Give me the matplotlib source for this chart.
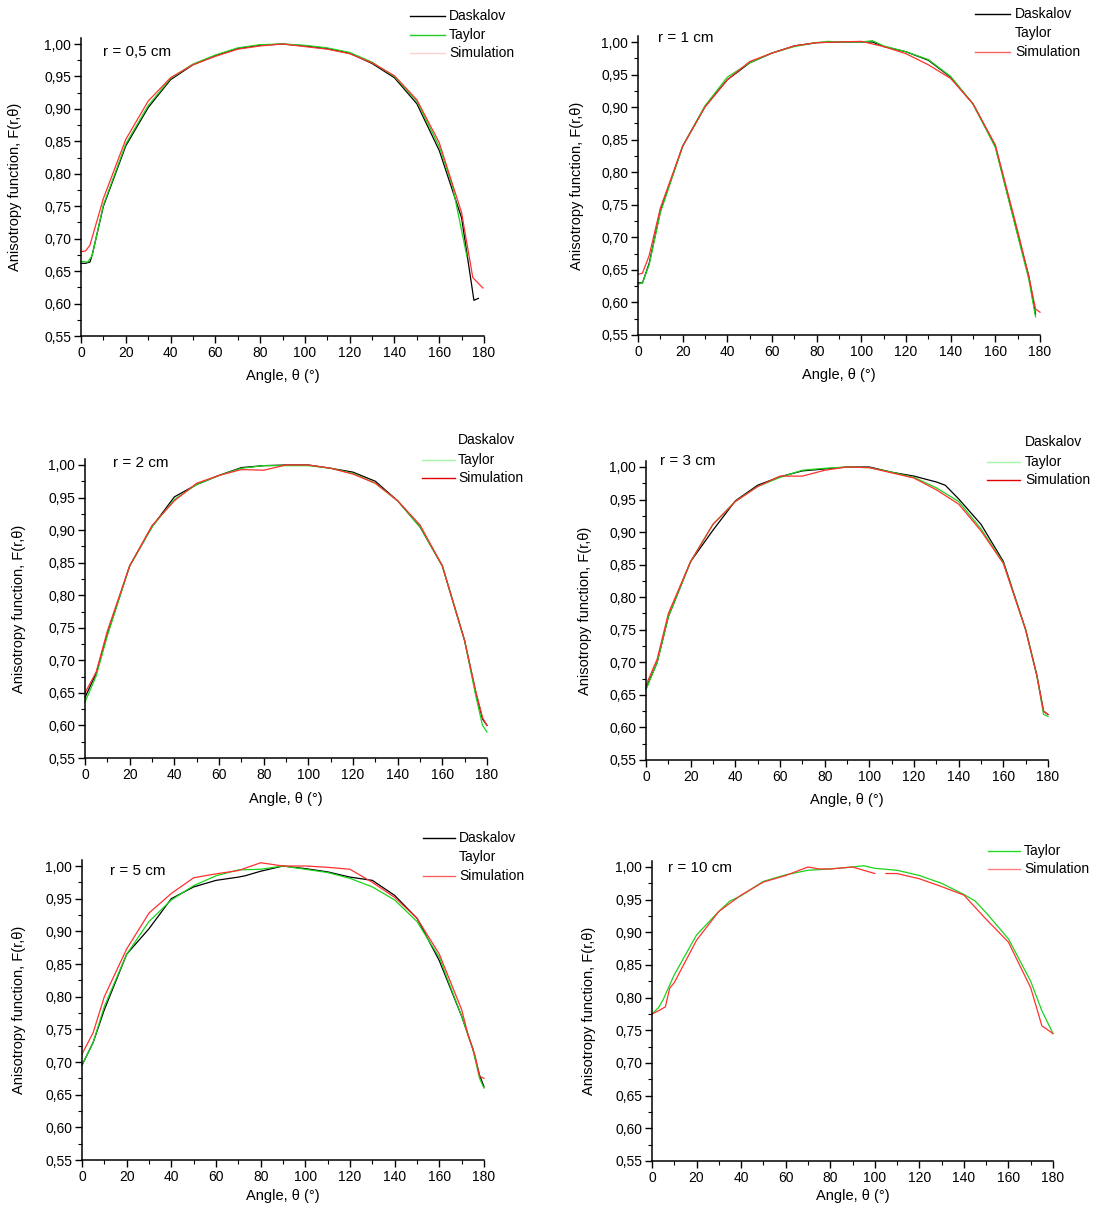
import numpy as np
import matplotlib
matplotlib.use('Agg')
import matplotlib.pyplot as plt
from matplotlib.lines import Line2D
from matplotlib.ticker import FuncFormatter, MultipleLocator

plt.rcParams['font.family'] = ['Liberation Sans', 'DejaVu Sans']

# Angles (degrees) and anisotropy values

# r = 0,5 cm
ang_05_d = [0, 2, 4, 5, 10, 20, 30, 40, 50, 60, 70, 80, 90, 100, 110, 120, 130, 140, 150, 160, 170, 175.5, 177.5]
val_05_d = [0.662, 0.662, 0.664, 0.675, 0.750, 0.843, 0.902, 0.945, 0.968, 0.982, 0.993, 0.998, 1.000, 0.997, 0.993, 0.986, 0.970, 0.948, 0.908, 0.836, 0.732, 0.605, 0.608]
ang_05_t = [0, 3, 5, 10, 20, 30, 40, 50, 60, 70, 80, 90, 100, 110, 120, 130, 140, 150, 160, 166, 172.4]
val_05_t = [0.665, 0.664, 0.674, 0.752, 0.846, 0.905, 0.947, 0.969, 0.983, 0.994, 0.999, 1.000, 0.998, 0.994, 0.987, 0.972, 0.950, 0.912, 0.842, 0.780, 0.672]
ang_05_s = [0, 2, 4, 10, 20, 30, 40, 50, 60, 70, 80, 90, 100, 110, 120, 130, 140, 150, 160, 170, 175, 179.5]
val_05_s = [0.680, 0.681, 0.690, 0.762, 0.853, 0.912, 0.948, 0.968, 0.981, 0.992, 0.997, 1.000, 0.996, 0.992, 0.985, 0.971, 0.951, 0.914, 0.848, 0.740, 0.640, 0.624]

# r = 1 cm
ang_1_d = [0, 2, 5, 10, 20, 30, 40, 50, 60, 70, 80, 90, 100, 105, 110, 120, 130, 140, 150, 160, 170, 175, 178]
val_1_d = [0.630, 0.630, 0.660, 0.740, 0.840, 0.901, 0.942, 0.968, 0.983, 0.994, 0.999, 1.000, 1.000, 1.000, 0.993, 0.985, 0.972, 0.946, 0.905, 0.840, 0.705, 0.640, 0.582]
ang_1_t = [0, 2, 5, 10, 20, 30, 40, 50, 60, 70, 80, 85, 90, 100, 105, 110, 120, 130, 140, 150, 160, 170, 175, 178]
val_1_t = [0.628, 0.630, 0.658, 0.738, 0.840, 0.902, 0.946, 0.968, 0.983, 0.993, 0.999, 1.001, 1.000, 1.000, 1.002, 0.994, 0.985, 0.973, 0.947, 0.905, 0.838, 0.703, 0.635, 0.578]
ang_1_s = [0, 2, 5, 10, 20, 30, 40, 50, 60, 70, 80, 90, 100, 110, 120, 130, 140, 150, 160, 170, 175, 178, 180]
val_1_s = [0.643, 0.645, 0.672, 0.745, 0.840, 0.900, 0.942, 0.970, 0.983, 0.994, 0.999, 1.000, 1.001, 0.993, 0.982, 0.965, 0.944, 0.905, 0.842, 0.710, 0.640, 0.590, 0.585]

# r = 2 cm
ang_2_d = [0, 5, 10, 20, 30, 40, 50, 60, 70, 80, 90, 100, 110, 120, 130, 140, 150, 160, 170, 175, 178, 180]
val_2_d = [0.643, 0.680, 0.740, 0.845, 0.905, 0.951, 0.970, 0.984, 0.996, 0.999, 1.000, 1.000, 0.995, 0.989, 0.975, 0.945, 0.905, 0.845, 0.730, 0.650, 0.610, 0.600]
ang_2_t = [0, 5, 10, 20, 30, 40, 50, 60, 70, 80, 90, 100, 110, 120, 130, 140, 150, 160, 170, 175, 178, 180]
val_2_t = [0.636, 0.676, 0.738, 0.845, 0.905, 0.947, 0.970, 0.984, 0.995, 0.999, 0.999, 0.999, 0.995, 0.987, 0.972, 0.945, 0.905, 0.845, 0.730, 0.645, 0.600, 0.590]
ang_2_s = [0, 5, 10, 20, 30, 40, 50, 60, 70, 80, 90, 100, 110, 120, 130, 140, 150, 160, 170, 175, 178, 180]
val_2_s = [0.650, 0.682, 0.745, 0.845, 0.907, 0.945, 0.972, 0.984, 0.993, 0.992, 1.000, 1.000, 0.995, 0.986, 0.972, 0.945, 0.908, 0.845, 0.730, 0.652, 0.612, 0.600]

# r = 3 cm
ang_3_d = [0, 5, 10, 20, 30, 40, 50, 60, 70, 80, 90, 100, 110, 120, 130, 134, 140, 150, 160, 170, 175, 178, 180]
val_3_d = [0.660, 0.700, 0.770, 0.855, 0.903, 0.948, 0.972, 0.985, 0.994, 0.997, 1.000, 1.000, 0.992, 0.986, 0.977, 0.972, 0.951, 0.912, 0.855, 0.750, 0.680, 0.625, 0.620]
ang_3_t = [0, 5, 10, 20, 30, 40, 50, 60, 70, 80, 90, 100, 110, 120, 130, 140, 150, 160, 170, 175, 178, 180]
val_3_t = [0.658, 0.700, 0.770, 0.855, 0.912, 0.947, 0.970, 0.984, 0.995, 0.998, 1.000, 0.999, 0.992, 0.984, 0.968, 0.947, 0.905, 0.853, 0.750, 0.680, 0.620, 0.617]
ang_3_s = [0, 5, 10, 20, 30, 40, 50, 60, 70, 80, 90, 100, 110, 120, 130, 140, 150, 160, 170, 175, 178, 180]
val_3_s = [0.665, 0.705, 0.775, 0.855, 0.912, 0.947, 0.970, 0.986, 0.986, 0.995, 1.000, 0.999, 0.991, 0.983, 0.965, 0.943, 0.902, 0.852, 0.750, 0.680, 0.625, 0.620]

# r = 5 cm
ang_5_d = [0, 5, 10, 20, 30, 40, 50, 60, 70, 73, 80, 90, 100, 110, 120, 130, 140, 150, 160, 170, 175, 178, 180]
val_5_d = [0.695, 0.730, 0.780, 0.865, 0.904, 0.950, 0.968, 0.978, 0.983, 0.985, 0.992, 1.000, 0.996, 0.991, 0.983, 0.978, 0.955, 0.920, 0.855, 0.770, 0.720, 0.680, 0.662]
ang_5_t = [0, 5, 10, 20, 30, 40, 50, 60, 70, 80, 90, 100, 110, 120, 130, 140, 150, 160, 170, 175, 178, 180]
val_5_t = [0.695, 0.730, 0.785, 0.865, 0.915, 0.948, 0.970, 0.985, 0.994, 0.995, 1.000, 0.995, 0.990, 0.981, 0.968, 0.948, 0.915, 0.860, 0.770, 0.720, 0.675, 0.660]
ang_5_s = [0, 5, 10, 20, 30, 40, 50, 60, 70, 80, 90, 100, 110, 120, 130, 140, 150, 160, 170, 173, 176, 178, 180]
val_5_s = [0.712, 0.745, 0.800, 0.873, 0.928, 0.958, 0.982, 0.988, 0.993, 1.005, 1.000, 1.000, 0.998, 0.995, 0.975, 0.952, 0.920, 0.865, 0.780, 0.740, 0.710, 0.678, 0.675]

# r = 10 cm (no Daskalov data)
ang_10_t = [0, 3, 5, 10, 20, 30, 35, 40, 50, 60, 70, 80, 90, 95, 100, 110, 120, 130, 140, 145, 150, 160, 170, 175, 180]
val_10_t = [0.775, 0.785, 0.797, 0.835, 0.896, 0.932, 0.948, 0.956, 0.978, 0.988, 0.995, 0.997, 1.000, 1.002, 0.998, 0.995, 0.987, 0.975, 0.958, 0.948, 0.930, 0.890, 0.825, 0.780, 0.745]
ang_10_s = [0, 3, 6, 8, 10, 20, 30, 40, 50, 60, 70, 75, 80, 90, 100, 102, 105, 110, 120, 130, 140, 150, 160, 170, 175, 180]
val_10_s = [0.775, 0.780, 0.786, 0.815, 0.823, 0.888, 0.932, 0.957, 0.977, 0.987, 1.000, 0.997, 0.997, 1.000, 0.990, np.nan, 0.990, 0.990, 0.982, 0.970, 0.957, 0.920, 0.885, 0.815, 0.757, 0.745]

radius_labels = ['r = 0,5 cm', 'r = 1 cm', 'r = 2 cm', 'r = 3 cm', 'r = 5 cm', 'r = 10 cm']

series = [
    [(ang_05_d, val_05_d, 'k'), (ang_05_t, val_05_t, '#1ad41a'), (ang_05_s, val_05_s, '#ff3030')],
    [(ang_1_d, val_1_d, 'k'), (ang_1_t, val_1_t, '#1ad41a'), (ang_1_s, val_1_s, '#ff3030')],
    [(ang_2_d, val_2_d, 'k'), (ang_2_t, val_2_t, '#1ad41a'), (ang_2_s, val_2_s, '#ff3030')],
    [(ang_3_d, val_3_d, 'k'), (ang_3_t, val_3_t, '#1ad41a'), (ang_3_s, val_3_s, '#ff3030')],
    [(ang_5_d, val_5_d, 'k'), (ang_5_t, val_5_t, '#1ad41a'), (ang_5_s, val_5_s, '#ff3030')],
    [(ang_10_t, val_10_t, '#1ad41a'), (ang_10_s, val_10_s, '#ff3030')],
]

# pixel layout: x of 0 and 180 deg, y of 1,00 and 0,55
frames = [(81, 484, 44, 336), (638, 1040, 42, 335),
          (85, 487, 465, 758), (646, 1048, 467, 760),
          (82, 484, 866, 1160), (652, 1053, 867, 1161)]

# legend: (line x0, line x1, text x, row ys, labels, line colours)
legends = [
    (410, 445, 449, [16, 35, 53], ['Daskalov', 'Taylor', 'Simulation'], ['k', '#22cc22', '#ffd0d0']),
    (975, 1010, 1015, [14, 33, 52], ['Daskalov', 'Taylor', 'Simulation'], ['k', 'none', '#ff6060']),
    (422, 455, 458, [440, 460, 478], ['Daskalov', 'Taylor', 'Simulation'], ['none', '#a8f5a8', '#e00000']),
    (987, 1020, 1025, [442, 462, 480], ['Daskalov', 'Taylor', 'Simulation'], ['none', '#a8f5a8', '#e00000']),
    (423, 455, 459, [838, 857, 876], ['Daskalov', 'Taylor', 'Simulation'], ['k', 'none', '#ff6060']),
    (988, 1020, 1024, [851, 869], ['Taylor', 'Simulation'], ['#22dd22', '#ff8080']),
]

ann_pos = [(103, 52), (658, 38), (113, 463), (660, 461), (110, 871), (668, 868)]
ylab_x = [16, 578, 20, 586, 20, 590]
xlab_y = [376, 375, 799, 800, 1196, 1196]

W, H = 1095, 1207
fig = plt.figure(figsize=(W / 100, H / 100), dpi=100)

comma = FuncFormatter(lambda v, p: '{:.2f}'.format(v).replace('.', ','))
ytop = 1.009

for i in range(6):
    x0, x1, y1, y0 = frames[i]
    ppu = (y0 - y1) / 0.45
    top_px = y1 - (ytop - 1.0) * ppu
    ax = fig.add_axes([x0 / W, 1 - y0 / H, (x1 - x0) / W, (y0 - top_px) / H])

    for ang, val, col in series[i]:
        ax.plot(ang, val, color=col, lw=0.9, clip_on=False)

    ax.set_xlim(0, 180)
    ax.set_ylim(0.55, ytop)
    ax.xaxis.set_major_locator(MultipleLocator(20))
    ax.xaxis.set_minor_locator(MultipleLocator(10))
    ax.yaxis.set_major_locator(MultipleLocator(0.05))
    ax.yaxis.set_minor_locator(MultipleLocator(0.025))
    ax.yaxis.set_major_formatter(comma)
    for s in ['top', 'right']:
        ax.spines[s].set_visible(False)
    for s in ['left', 'bottom']:
        ax.spines[s].set_linewidth(1.1)
    ax.tick_params(which='major', direction='out', length=5, width=1, labelsize=10, pad=2)
    ax.tick_params(which='minor', direction='out', length=3, width=0.8)

    ax_h = y0 - top_px
    ax.set_xlabel('Angle, θ (°)', fontsize=10.5)
    ax.xaxis.set_label_coords(0.5, -(xlab_y[i] - 7 - y0) / ax_h)
    ax.set_ylabel('Anisotropy function, F(r,θ)', fontsize=10.5)
    ax.yaxis.set_label_coords((ylab_x[i] + 6 - x0) / (x1 - x0), 0.5)

    ax.text(ann_pos[i][0] / W, 1 - ann_pos[i][1] / H, radius_labels[i],
            transform=fig.transFigure, fontsize=11, va='center', ha='left')

    lx0, lx1, tx, rows, labels, lcols = legends[i]
    for yy, lab, lc in zip(rows, labels, lcols):
        fy = 1 - yy / H
        if lc != 'none':
            fig.add_artist(Line2D([lx0 / W, lx1 / W], [fy, fy], color=lc, lw=1.0,
                                  transform=fig.transFigure))
        fig.text(tx / W, fy, lab, fontsize=10, va='center', ha='left')

fig.savefig('out.png', dpi=100, facecolor='white')
